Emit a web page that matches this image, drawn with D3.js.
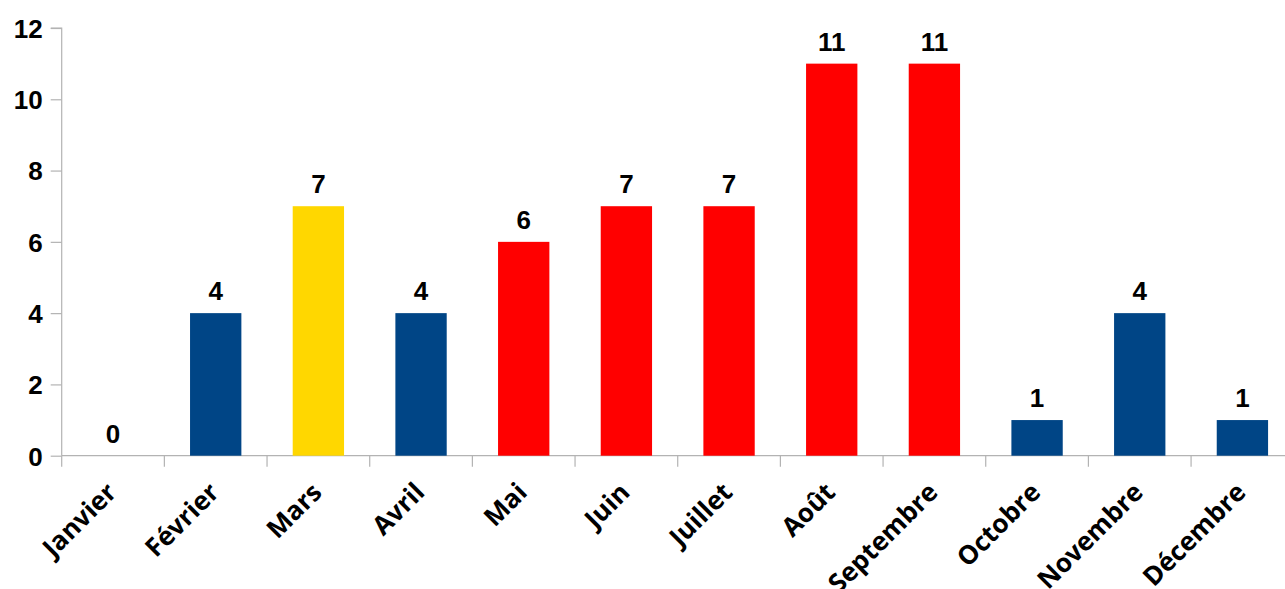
<!DOCTYPE html>
<html>
<head>
<meta charset="utf-8">
<script src="https://cdn.jsdelivr.net/npm/d3@7"></script>
<style>
  html, body { margin: 0; padding: 0; background: #fff; }
  svg { display: block; }
  text { font-family: "Liberation Sans", Arial, sans-serif; font-weight: bold; fill: #000; }
  .month { font-family: "Open Sans", "Liberation Sans", sans-serif; }
</style>
</head>
<body>
<svg id="chart" width="1285" height="589"></svg>
<script>
const months = ["Janvier", "Février", "Mars", "Avril", "Mai", "Juin", "Juillet", "Août", "Septembre", "Octobre", "Novembre", "Décembre"];
const counts = [0, 4, 7, 4, 6, 7, 7, 11, 11, 1, 4, 1];
const barColors = ["#004586", "#004586", "#ffd700", "#004586", "#ff0000", "#ff0000", "#ff0000", "#ff0000", "#ff0000", "#004586", "#004586", "#004586"];
const yTicks = [0, 2, 4, 6, 8, 10, 12];

const svg = d3.select("#chart");
const left = 61.7, bandW = 102.67;
const x = d3.scaleBand().domain(months).range([left, left + bandW * months.length]).paddingInner(0.5).paddingOuter(0.25);
const y = d3.scaleLinear().domain([0, 12]).range([455.7, 28]);
const axisColor = "#b3b3b3";

// Y axis
const gy = svg.append("g").attr("transform", `translate(${left},0)`)
  .call(d3.axisLeft(y).tickValues(yTicks).tickSize(11).tickPadding(8));
gy.select(".domain").attr("stroke", axisColor).attr("stroke-width", 1.2).attr("d", `M-11,${y(12)}H0V${y(0)}`);
gy.selectAll(".tick line").attr("stroke", axisColor).attr("stroke-width", 1.2);
gy.selectAll(".tick text").attr("font-size", 26).attr("font-family", "Liberation Sans").attr("font-weight", "bold").attr("fill", "#000").attr("dy", "0.36em");

// X axis baseline and category separators
const gx = svg.append("g");
gx.append("line").attr("x1", left).attr("x2", 1285).attr("y1", y(0)).attr("y2", y(0))
  .attr("stroke", axisColor).attr("stroke-width", 1.2);
gx.selectAll("line.sep").data(d3.range(months.length)).join("line").attr("class", "sep")
  .attr("x1", i => x(months[i]) - x.step() * 0.25).attr("x2", i => x(months[i]) - x.step() * 0.25)
  .attr("y1", y(0)).attr("y2", y(0) + 11)
  .attr("stroke", axisColor).attr("stroke-width", 1.2);

// Bars
svg.append("g").selectAll("rect").data(months).join("rect")
  .attr("x", d => x(d))
  .attr("width", x.bandwidth())
  .attr("y", (d, i) => y(counts[i]))
  .attr("height", (d, i) => y(0) - y(counts[i]))
  .attr("fill", (d, i) => barColors[i]);

// Value labels
svg.append("g").selectAll("text").data(months).join("text")
  .attr("x", d => x(d) + x.bandwidth() / 2)
  .attr("y", (d, i) => y(counts[i]) - 13)
  .attr("text-anchor", "middle")
  .attr("font-size", 26)
  .text((d, i) => counts[i]);

// Rotated month labels
svg.append("g").selectAll("text").data(months).join("text")
  .attr("class", "month")
  .attr("transform", d => `translate(${x(d) + x.bandwidth() / 2 + 5},494) rotate(-45)`)
  .attr("text-anchor", "end")
  .attr("font-size", 26)
  .text(d => d);
</script>
</body>
</html>
